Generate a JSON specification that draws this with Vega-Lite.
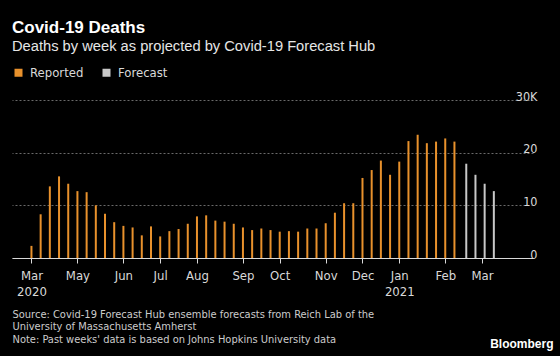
{
  "$schema": "https://vega.github.io/schema/vega-lite/v6.json",
  "width": 521,
  "height": 158,
  "autosize": "none",
  "padding": {"left": 12, "top": 100, "right": 27, "bottom": 98},
  "background": "#000000",
  "config": {
    "view": {"stroke": null},
    "font": "DejaVu Sans Condensed, Roboto"
  },
  "title": {
    "text": "Covid-19 Deaths",
    "subtitle": "Deaths by week as projected by Covid-19 Forecast Hub",
    "anchor": "start",
    "frame": "group",
    "font": "Liberation Sans",
    "fontSize": 17,
    "fontWeight": "bold",
    "color": "#ffffff",
    "subtitleFont": "Liberation Sans",
    "subtitleFontSize": 14.7,
    "subtitleColor": "#e6e6e6",
    "subtitlePadding": 2,
    "offset": 11
  },
  "data": {
    "values": [
      {"date": "2020-03-28", "deaths": 2.3, "type": "Reported"},
      {"date": "2020-04-04", "deaths": 8.3, "type": "Reported"},
      {"date": "2020-04-11", "deaths": 13.6, "type": "Reported"},
      {"date": "2020-04-18", "deaths": 15.5, "type": "Reported"},
      {"date": "2020-04-25", "deaths": 14.1, "type": "Reported"},
      {"date": "2020-05-02", "deaths": 12.7, "type": "Reported"},
      {"date": "2020-05-09", "deaths": 12.5, "type": "Reported"},
      {"date": "2020-05-16", "deaths": 10.0, "type": "Reported"},
      {"date": "2020-05-23", "deaths": 8.4, "type": "Reported"},
      {"date": "2020-05-30", "deaths": 6.8, "type": "Reported"},
      {"date": "2020-06-06", "deaths": 6.1, "type": "Reported"},
      {"date": "2020-06-13", "deaths": 5.8, "type": "Reported"},
      {"date": "2020-06-20", "deaths": 4.3, "type": "Reported"},
      {"date": "2020-06-27", "deaths": 6.0, "type": "Reported"},
      {"date": "2020-07-04", "deaths": 4.1, "type": "Reported"},
      {"date": "2020-07-11", "deaths": 5.1, "type": "Reported"},
      {"date": "2020-07-18", "deaths": 5.5, "type": "Reported"},
      {"date": "2020-07-25", "deaths": 6.5, "type": "Reported"},
      {"date": "2020-08-01", "deaths": 7.9, "type": "Reported"},
      {"date": "2020-08-08", "deaths": 8.1, "type": "Reported"},
      {"date": "2020-08-15", "deaths": 7.1, "type": "Reported"},
      {"date": "2020-08-22", "deaths": 6.9, "type": "Reported"},
      {"date": "2020-08-29", "deaths": 6.5, "type": "Reported"},
      {"date": "2020-09-05", "deaths": 5.8, "type": "Reported"},
      {"date": "2020-09-12", "deaths": 5.3, "type": "Reported"},
      {"date": "2020-09-19", "deaths": 5.6, "type": "Reported"},
      {"date": "2020-09-26", "deaths": 5.3, "type": "Reported"},
      {"date": "2020-10-03", "deaths": 5.0, "type": "Reported"},
      {"date": "2020-10-10", "deaths": 5.1, "type": "Reported"},
      {"date": "2020-10-17", "deaths": 5.0, "type": "Reported"},
      {"date": "2020-10-24", "deaths": 5.6, "type": "Reported"},
      {"date": "2020-10-31", "deaths": 5.6, "type": "Reported"},
      {"date": "2020-11-07", "deaths": 6.6, "type": "Reported"},
      {"date": "2020-11-14", "deaths": 8.6, "type": "Reported"},
      {"date": "2020-11-21", "deaths": 10.4, "type": "Reported"},
      {"date": "2020-11-28", "deaths": 10.4, "type": "Reported"},
      {"date": "2020-12-05", "deaths": 15.2, "type": "Reported"},
      {"date": "2020-12-12", "deaths": 16.7, "type": "Reported"},
      {"date": "2020-12-19", "deaths": 18.5, "type": "Reported"},
      {"date": "2020-12-26", "deaths": 15.8, "type": "Reported"},
      {"date": "2021-01-02", "deaths": 18.3, "type": "Reported"},
      {"date": "2021-01-09", "deaths": 22.2, "type": "Reported"},
      {"date": "2021-01-16", "deaths": 23.4, "type": "Reported"},
      {"date": "2021-01-23", "deaths": 21.8, "type": "Reported"},
      {"date": "2021-01-30", "deaths": 22.1, "type": "Reported"},
      {"date": "2021-02-06", "deaths": 22.7, "type": "Reported"},
      {"date": "2021-02-13", "deaths": 22.1, "type": "Reported"},
      {"date": "2021-02-22", "deaths": 17.9, "type": "Forecast"},
      {"date": "2021-03-01", "deaths": 15.8, "type": "Forecast"},
      {"date": "2021-03-08", "deaths": 14.1, "type": "Forecast"},
      {"date": "2021-03-15", "deaths": 12.7, "type": "Forecast"}
    ]
  },
  "mark": {"type": "bar", "width": 2},
  "encoding": {
    "x": {
      "field": "date",
      "type": "temporal",
      "scale": {
        "type": "utc",
        "domain": [
          {"year": 2020, "month": 3, "date": 17, "utc": true},
          {"year": 2021, "month": 4, "date": 10, "utc": true}
        ]
      },
      "axis": {
        "values": [
          {"year": 2020, "month": 3, "date": 28, "utc": true},
          {"year": 2020, "month": 5, "date": 2, "utc": true},
          {"year": 2020, "month": 6, "date": 6, "utc": true},
          {"year": 2020, "month": 7, "date": 4, "utc": true},
          {"year": 2020, "month": 8, "date": 1, "utc": true},
          {"year": 2020, "month": 9, "date": 5, "utc": true},
          {"year": 2020, "month": 10, "date": 3, "utc": true},
          {"year": 2020, "month": 11, "date": 7, "utc": true},
          {"year": 2020, "month": 12, "date": 5, "utc": true},
          {"year": 2021, "month": 1, "date": 2, "utc": true},
          {"year": 2021, "month": 2, "date": 6, "utc": true},
          {"year": 2021, "month": 3, "date": 6, "utc": true}
        ],
        "labelExpr": "(utcmonth(datum.value) == 0 || (utcyear(datum.value) == 2020 && utcmonth(datum.value) == 2)) ? [utcFormat(datum.value, '%b'), utcFormat(datum.value, '%Y')] : utcFormat(datum.value, '%b')",
        "labelOverlap": false,
        "labelFlush": false,
        "labelFontSize": 13,
        "labelColor": "#d9d9d9",
        "labelLineHeight": 16,
        "labelPadding": 6,
        "domainColor": "#d9d9d9",
        "tickColor": "#d9d9d9",
        "tickSize": 5,
        "grid": false,
        "title": [
          "Source: Covid-19 Forecast Hub ensemble forecasts from Reich Lab of the",
          "University of Massachusetts Amherst",
          "Note: Past weeks' data is based on Johns Hopkins University data"
        ],
        "titleAnchor": "start",
        "titleAlign": "left",
        "titleFontSize": 11,
        "titleFontWeight": "normal",
        "titleColor": "#cccccc",
        "titleLineHeight": 12.5,
        "titlePadding": 10
      }
    },
    "y": {
      "field": "deaths",
      "type": "quantitative",
      "scale": {"domain": [0, 30]},
      "axis": {
        "orient": "right",
        "values": [0, 10, 20, 30],
        "labelExpr": "datum.value == 30 ? '30K' : datum.label",
        "domain": false,
        "ticks": false,
        "grid": true,
        "gridColor": "#6a6a6a",
        "gridDash": [2, 2],
        "gridWidth": 1,
        "labelAlign": "right",
        "labelBaseline": "alphabetic",
        "labelDy": -7,
        "labelPadding": 4,
        "labelFontSize": 12.5,
        "labelColor": "#d9d9d9",
        "title": "Bloomberg",
        "titleAngle": 0,
        "titleAlign": "right",
        "titleBaseline": "middle",
        "titleX": 20,
        "titleY": 243,
        "titleFont": "Liberation Sans",
        "titleFontSize": 12,
        "titleFontWeight": "bold",
        "titleColor": "#ffffff"
      }
    },
    "color": {
      "field": "type",
      "type": "nominal",
      "scale": {"domain": ["Reported", "Forecast"], "range": ["#e8912c", "#c8c8c8"]},
      "legend": {
        "title": null,
        "orient": "none",
        "legendX": 0,
        "legendY": -34,
        "direction": "horizontal",
        "symbolType": "square",
        "symbolSize": 64,
        "symbolStrokeWidth": 0,
        "labelColor": "#d9d9d9",
        "labelFontSize": 13,
        "columnPadding": 16,
        "labelOffset": 5
      }
    }
  }
}
